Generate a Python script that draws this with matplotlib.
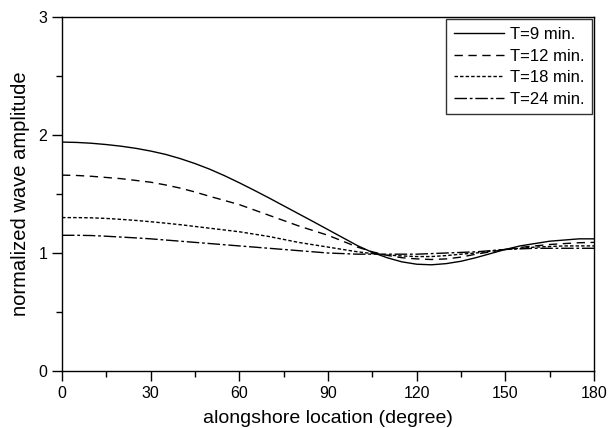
import matplotlib
matplotlib.use("Agg")
import matplotlib.pyplot as plt
from matplotlib.ticker import MultipleLocator

plt.rcParams["font.family"] = ["Liberation Sans", "DejaVu Sans"]

# alongshore location (degree), read every 5 degrees
x = list(range(0, 181, 5))

amp_9 = [1.94, 1.937, 1.93, 1.919, 1.905, 1.887, 1.864, 1.836, 1.80, 1.758, 1.71, 1.655, 1.595,
         1.532, 1.467, 1.40, 1.333, 1.266, 1.198, 1.13, 1.062, 1.005, 0.96, 0.925, 0.905, 0.90,
         0.91, 0.93, 0.96, 0.995, 1.03, 1.06, 1.08, 1.10, 1.11, 1.12, 1.12]
amp_12 = [1.66, 1.657, 1.65, 1.64, 1.63, 1.615, 1.60, 1.577, 1.55, 1.517, 1.48, 1.445, 1.41,
          1.365, 1.32, 1.275, 1.23, 1.19, 1.15, 1.10, 1.05, 1.01, 0.98, 0.96, 0.95, 0.945,
          0.95, 0.965, 0.99, 1.01, 1.03, 1.047, 1.06, 1.072, 1.08, 1.087, 1.09]
amp_18 = [1.30, 1.30, 1.298, 1.293, 1.285, 1.276, 1.265, 1.253, 1.24, 1.225, 1.21, 1.195, 1.18,
          1.16, 1.14, 1.115, 1.09, 1.07, 1.05, 1.03, 1.01, 0.995, 0.983, 0.975, 0.97, 0.97,
          0.978, 0.99, 1.00, 1.015, 1.03, 1.04, 1.05, 1.055, 1.06, 1.06, 1.06]
amp_24 = [1.15, 1.15, 1.148, 1.142, 1.135, 1.128, 1.12, 1.11, 1.10, 1.09, 1.08, 1.07, 1.06,
          1.05, 1.04, 1.03, 1.02, 1.01, 1.00, 0.995, 0.99, 0.99, 0.99, 0.99, 0.99, 0.995,
          1.00, 1.005, 1.01, 1.02, 1.03, 1.035, 1.04, 1.04, 1.04, 1.04, 1.04]

labels = ["T=9 min.", "T=12 min.", "T=18 min.", "T=24 min."]

fig = plt.figure(figsize=(6.08, 4.28), dpi=100)
ax = fig.add_axes([62 / 608, 1 - 371 / 428, 532 / 608, 354 / 428])

ax.plot(x, amp_9, color="black", lw=1.0, ls="-", label=labels[0])
ax.plot(x, amp_12, color="black", lw=1.0, ls=(0, (6, 4)), label=labels[1])
ax.plot(x, amp_18, color="black", lw=1.0, ls=(0, (2.5, 1.5)), label=labels[2])
ax.plot(x, amp_24, color="black", lw=1.0, ls=(0, (9, 2, 2, 2)), label=labels[3])

ax.set_xlim(0, 180)
ax.set_ylim(0, 3)
ax.xaxis.set_major_locator(MultipleLocator(30))
ax.xaxis.set_minor_locator(MultipleLocator(15))
ax.yaxis.set_major_locator(MultipleLocator(1))
ax.yaxis.set_minor_locator(MultipleLocator(0.5))
ax.tick_params(which="major", direction="out", length=7, width=1, labelsize=11.5, colors="black")
ax.tick_params(which="minor", direction="out", length=4, width=1)
ax.tick_params(top=False, right=False)
for s in ax.spines.values():
    s.set_linewidth(1.0)

ax.set_xlabel("alongshore location (degree)", fontsize=14, labelpad=7)
ax.set_ylabel("normalized wave amplitude", fontsize=14.5, labelpad=6)

leg = ax.legend(loc="upper right", fontsize=12, frameon=True, fancybox=False,
                edgecolor="black", borderaxespad=0.15, handlelength=3.0,
                handletextpad=0.35, labelspacing=0.4, borderpad=0.45)
leg.get_frame().set_linewidth(1.0)

fig.savefig("out.png", dpi=100)
